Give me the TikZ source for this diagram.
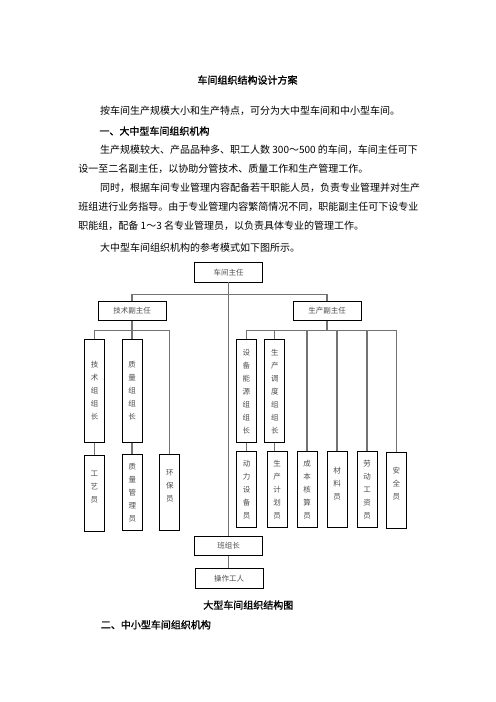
\documentclass[tikz,border=0pt]{standalone}
\usepackage{fontspec}
\setmainfont{Noto Sans CJK SC}
\newfontfamily\hei[FakeBold=1.2]{Noto Sans CJK SC}
\tikzset{
  body/.style={anchor=west, inner sep=0pt, font=\fontsize{12}{12}\selectfont},
  head/.style={inner sep=0pt, font=\hei\fontsize{12}{12}\selectfont},
  box/.style={draw, line width=1pt, inner sep=0pt, text=black!70, align=center, font=\fontsize{9}{15.6}\selectfont},
  hbox/.style={box, minimum width=81.6pt, minimum height=23.4pt},
  tall/.style={box, minimum width=24pt, minimum height=123.6pt},
  short/.style={box, minimum width=24pt, minimum height=91pt},
  link/.style={draw=black!55, line width=1.6pt}
}
\begin{document}
\begin{tikzpicture}[x=1.2pt, y=-1.2pt]
  \useasboundingbox (0,0) rectangle (496,702);
  \node[head] (tt) at (247.5,80) {车间组织结构设计方案};
  \node[body] (p1) at (100,110.7) {按车间生产规模大小和生产特点，可分为大中型车间和中小型车间。};
  \node[head, anchor=west] (h1) at (99.3,131) {一、大中型车间组织机构};
  \node[body] (p2) at (100,150) {生产规模较大、产品品种多、职工人数 300～500 的车间，车间主任可下};
  \node[body] (p3) at (78.3,169.3) {设一至二名副主任，以协助分管技术、质量工作和生产管理工作。};
  \node[body] (p4) at (100,188) {同时，根据车间专业管理内容配备若干职能人员，负责专业管理并对生产};
  \node[body] (p5) at (78.3,206.7) {班组进行业务指导。由于专业管理内容繁简情况不同，职能副主任可下设专业};
  \node[body] (p6) at (78.3,225.7) {职能组，配备 1～3 名专业管理员，以负责具体专业的管理工作。};
  \node[body] (p7) at (100,247.7) {大中型车间组织机构的参考模式如下图所示。};

  \node[hbox] (zr) at (228.5,272.3) {车间主任};
  \node[hbox] (js) at (132,310.7) {技术副主任};
  \node[hbox] (sc) at (327,310.8) {生产副主任};
  \node[tall] (jz) at (94.5,391) {技\\术\\组\\组\\长};
  \node[tall] (zz) at (132,391) {质\\量\\组\\组\\长};
  \node[tall] (sb) at (246.3,391.3) {设\\备\\能\\源\\组\\组\\长};
  \node[tall] (sd) at (274.8,391.3) {生\\产\\调\\度\\组\\组\\长};
  \node[short] (gy) at (94.3,493) {工\\艺\\员\\~};
  \node[short] (zg) at (132.3,492.3) {质\\量\\管\\理\\员};
  \node[short] (hb) at (169.8,492.3) {环\\保\\员\\~};
  \node[short] (dl) at (246.5,489.8) {动\\力\\设\\备\\员};
  \node[short] (jh) at (277,489.8) {生\\产\\计\\划\\员};
  \node[short] (cb) at (307,489.8) {成\\本\\核\\算\\员};
  \node[short] (cl) at (337,489.8) {材\\料\\员\\~};
  \node[short] (ld) at (367,489.8) {劳\\动\\工\\资\\员};
  \node[short] (aq) at (396.3,490.3) {安\\全\\员\\~};
  \node[hbox] (bz) at (228.5,545.8) {班组长};
  \node[hbox] (cz) at (229,578.2) {操作工人};

  \coordinate (b1) at (228.5,294.3);
  \coordinate (b2) at (132,330.3);
  \coordinate (b3) at (327,330.3);
  \draw[link] (zr) -- (bz);
  \draw[link] (js.north) |- (b1) -| (sc.north);
  \draw[link] (jz.north) |- (b2) -| (hb.north);
  \draw[link] (js.south) -- (zz.north);
  \draw[link] (sc.south) -- (b3);
  \draw[link] (sb.north) |- (b3) -| (aq.north);
  \foreach \n in {sd,cb,cl,ld}
    \draw[link] (\n.north) -- (\n.north |- b3);
  \draw[link] (jz.south) -- (jz.south |- gy.north);
  \draw[link] (zz.south) -- (zz.south |- zg.north);
  \draw[link] (sb.south) -- (sb.south |- dl.north);
  \draw[link] (sd.south) -- (sd.south |- jh.north);
  \draw[link] (bz.south) -- (bz.south |- cz.north);

  \node[head] (cap) at (248.3,605) {大型车间组织结构图};
  \node[head, anchor=west] (h2) at (100.7,624.7) {二、中小型车间组织机构};
\end{tikzpicture}
\end{document}
